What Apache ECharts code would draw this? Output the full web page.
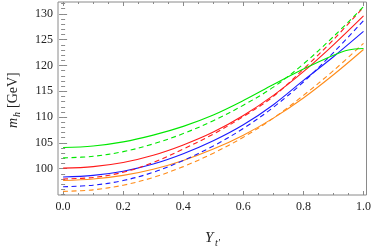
<!DOCTYPE html>
<html>
<head>
<meta charset="utf-8">
<script src="https://cdn.jsdelivr.net/npm/echarts@6/dist/echarts.min.js"></script>
<style>html,body{margin:0;padding:0;background:#fff}#c{width:374px;height:248px}</style>
</head>
<body>
<div id="c"></div>
<script>
const xs = [0, 0.1, 0.2, 0.3, 0.4, 0.5, 0.6, 0.7, 0.8, 0.9, 1.0];
const xsGreen = [0, 0.1, 0.2, 0.3, 0.4, 0.5, 0.6, 0.7, 0.8, 0.9, 0.95, 1.0];
const greenSolid  = [104.1, 104.4, 105.2, 106.5, 108.2, 110.4, 113.2, 116.3, 119.3, 122.0, 123.0, 123.3];
const greenDashed = [102.1, 102.4, 103.3, 104.8, 106.8, 109.3, 112.3, 115.8, 120.3, 125.6, 131.4];
const redSolid    = [100.1, 100.4, 101.2, 102.6, 104.6, 107.1, 110.3, 114.2, 118.8, 124.0, 129.6];
const redDashed   = [98.0, 98.3, 99.3, 101.2, 103.8, 106.7, 110.1, 114.0, 119.3, 125.0, 131.3];
const blueSolid   = [98.4, 98.7, 99.5, 100.9, 102.9, 105.4, 108.5, 112.4, 117.1, 121.7, 126.6];
const blueDashed  = [96.5, 96.8, 97.7, 99.3, 101.6, 104.4, 107.8, 111.9, 116.8, 122.5, 128.7];
const orangeSolid = [97.7, 98.0, 98.7, 99.9, 101.6, 103.8, 106.5, 109.8, 113.7, 118.2, 123.1];
const orangeDashed= [95.6, 95.9, 96.8, 98.3, 100.4, 103.0, 106.1, 109.8, 114.2, 119.0, 124.3];
const xMajor = [0, 0.2, 0.4, 0.6, 0.8, 1.0];
const xMinor = [0.05,0.1,0.15,0.25,0.3,0.35,0.45,0.5,0.55,0.65,0.7,0.75,0.85,0.9,0.95];
const yMajor = [100, 105, 110, 115, 120, 125, 130];
const yMinor = [95,96,97,98,99,101,102,103,104,106,107,108,109,111,112,113,114,116,117,118,119,121,122,123,124,126,127,128,129,131,132];

const chart = echarts.init(document.getElementById('c'), null, {renderer:'canvas'});
const frameColor = '#8a8a8a';
const font = 'Liberation Serif';
const XMIN = -0.017, XMAX = 1.01, YMIN = 94.9, YMAX = 132.3;

function xAx(pos, vals, len, labels) {
  return {type:'value', position:pos, min:XMIN, max:XMAX,
    axisLine:{show:false}, splitLine:{show:false},
    axisTick:{show:true, inside:true, length:len, customValues:vals, lineStyle:{color:frameColor, width:1}},
    axisLabel:{show:labels, customValues:vals, margin:6, color:'#222', fontFamily:font, fontSize:12,
      formatter:v=>v.toFixed(1)}};
}
function yAx(pos, vals, len, labels) {
  return {type:'value', position:pos, min:YMIN, max:YMAX,
    axisLine:{show:false}, splitLine:{show:false},
    axisTick:{show:true, inside:true, length:len, customValues:vals, lineStyle:{color:frameColor, width:1}},
    axisLabel:{show:labels, customValues:vals, margin:5, color:'#222', fontFamily:font, fontSize:12,
      formatter:v=>String(v)}};
}
function mk(xv, yv) { return xv.map((x,i)=>[x, yv[i]]); }
function line(data, color, dashed) {
  return {type:'line', data:data, smooth:0.35, symbol:'none', xAxisIndex:0, yAxisIndex:0,
    lineStyle:{color:color, width:1.1, type: dashed ? [5,3.5] : 'solid'}, z:3};
}
const G='#00e800', R='#ff1a1a', B='#1a1aff', O='#ff8c1a';
chart.setOption({
  animation:false,
  grid:{left:58, right:3, top:2, bottom:53, show:true, borderColor:frameColor, borderWidth:1, backgroundColor:'transparent'},
  xAxis:[xAx('bottom', xMajor, 4, true), xAx('bottom', xMinor, 2, false), xAx('top', xMajor, 4, false), xAx('top', xMinor, 2, false)],
  yAxis:[yAx('left', yMajor, 4, true), yAx('left', yMinor, 2, false), yAx('right', yMajor, 4, false), yAx('right', yMinor, 2, false)],
  series:[
    line(mk(xs, orangeDashed), O, true),
    line(mk(xs, orangeSolid), O, false),
    line(mk(xs, blueDashed), B, true),
    line(mk(xs, blueSolid), B, false),
    line(mk(xs, redDashed), R, true),
    line(mk(xs, redSolid), R, false),
    line(mk(xs, greenDashed), G, true),
    line(mk(xsGreen, greenSolid), G, false)
  ],
  graphic:[
    {type:'group', x:13, y:95, rotation:Math.PI/2, children:[
      {type:'text', x:-33, y:0, style:{text:'m', font:'italic 14px "Liberation Serif"', fill:'#222', textAlign:'left', textVerticalAlign:'middle'}},
      {type:'text', x:-22, y:4, style:{text:'h', font:'italic 10px "Liberation Serif"', fill:'#222', textAlign:'left', textVerticalAlign:'middle'}},
      {type:'text', x:-13, y:0, style:{text:'[GeV]', font:'14px "Liberation Serif"', fill:'#222', textAlign:'left', textVerticalAlign:'middle'}}
    ]},
    {type:'group', x:205, y:238, children:[
      {type:'text', x:0, y:0, style:{text:'Y', font:'italic 15px "Liberation Serif"', fill:'#222', textAlign:'left', textVerticalAlign:'middle'}},
      {type:'text', x:10, y:5, style:{text:"t\u2032", font:'italic 10px "Liberation Serif"', fill:'#222', textAlign:'left', textVerticalAlign:'middle'}}
    ]}
  ]
});
</script>
</body>
</html>
